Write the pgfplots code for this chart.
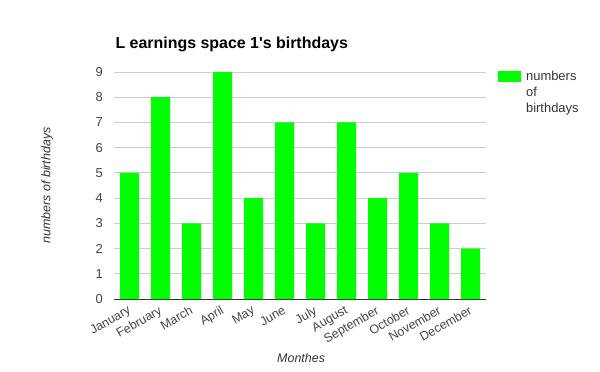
\documentclass[border=0pt]{standalone}
\usepackage{pgfplots}
\pgfplotsset{compat=1.18}
\usepackage{fontspec}
\setmainfont{Liberation Sans}
\definecolor{bargreen}{HTML}{00FF00}
\definecolor{gridgray}{HTML}{CCCCCC}
\definecolor{ticktext}{HTML}{444444}
\definecolor{axisdark}{HTML}{333333}
\begin{document}
\begin{tikzpicture}[x=1bp,y=1bp]
\useasboundingbox (0,0) rectangle (600,371);
\begin{axis}[
  at={(114bp,72bp)}, anchor=south west,
  scale only axis, width=372bp, height=227bp,
  xmin=-0.5, xmax=11.5, ymin=0, ymax=9,
  ytick={0,1,2,3,4,5,6,7,8,9},
  xtick={0,1,2,3,4,5,6,7,8,9,10,11},
  xticklabels={January,February,March,April,May,June,July,August,September,October,November,December},
  ymajorgrids, grid style={gridgray, line width=0.8bp},
  axis x line*=bottom, axis y line*=left,
  x axis line style={axisdark, line width=1bp, -},
  y axis line style={draw=none},
  major tick length=0pt,
  tick label style={font=\fontsize{13}{15}\selectfont, text=ticktext},
  /pgf/number format/assume math mode=true,
  yticklabel style={anchor=east, inner sep=0pt, xshift=-11bp},
  xticklabel style={rotate=30, anchor=north east, inner sep=0pt, yshift=-4bp, xshift=-5bp, font=\fontsize{12.5}{15}\selectfont},
  xlabel={\itshape Monthes},
  xlabel style={at={(axis description cs:0.503,-0.26)}, anchor=center, font=\fontsize{12.5}{15}\selectfont, text=axisdark},
  ylabel={\itshape numbers of birthdays},
  ylabel style={at={(axis description cs:-0.18,0.5)}, anchor=center, rotate=0, font=\fontsize{12.5}{15}\selectfont, text=axisdark},
  ybar, bar width=19bp,
  legend style={at={(axis description cs:1.032,1.025)}, anchor=north west, draw=none, fill=none,
    font=\fontsize{13}{16.5}\selectfont, text=axisdark, inner sep=0pt, row sep=0pt,
    cells={anchor=base west}},
  legend image code/.code={\fill[bargreen] (0bp,-2bp) rectangle (23bp,9bp);},
  title={\bfseries L earnings space 1\textquotesingle s birthdays},
  title style={at={(axis description cs:0,1)}, anchor=west, yshift=22bp, xshift=-2bp, font=\fontsize{16}{19}\selectfont},
]
\addplot[fill=bargreen, draw=none] coordinates {
(0,5) (1,8) (2,3) (3,9) (4,4) (5,7) (6,3) (7,7) (8,4) (9,5) (10,3) (11,2)};
\addlegendentry{\hspace{3bp}\begin{tabular}[t]{@{}l@{}}numbers\\of\\birthdays\end{tabular}}
\end{axis}
\end{tikzpicture}
\end{document}
